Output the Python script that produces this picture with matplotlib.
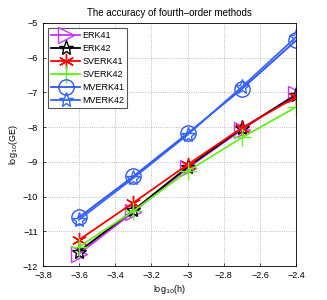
import numpy as np
import matplotlib
matplotlib.use('Agg')
import matplotlib.pyplot as plt

# log10 of step sizes h = 1/4000 ... 1/250
log_h = [-3.602, -3.301, -3.0, -2.699, -2.398]

erk41 = [-11.65, -10.45, -9.18, -8.07, -7.04]
erk42 = [-11.58, -10.40, -9.15, -8.04, -7.07]
sverk41 = [-11.25, -10.18, -9.08, -8.02, -7.13]
sverk42 = [-11.45, -10.42, -9.27, -8.30, -7.42]
mverk41 = [-10.60, -9.42, -8.18, -6.90, -5.50]
mverk42 = [-10.67, -9.47, -8.22, -6.84, -5.40]

labels = ['ERK41', 'ERK42', 'SVERK41', 'SVERK42', 'MVERK41', 'MVERK42']
colors = ['#cc33ff', 'k', 'r', '#66ee22', '#3355ee', '#3366ff']
markers = ['>', '*', (6, 2, 0), '+', 'o', '*']
sizes = [11, 11, 11, 13, 11, 11]

plt.rcParams['font.family'] = ['Liberation Sans', 'DejaVu Sans']
fig = plt.figure(figsize=(3.27, 3.0), dpi=100)
ax = fig.add_axes([0.1315, 0.113, 0.774, 0.811])

series = [erk41, erk42, sverk41, sverk42, mverk41, mverk42]
for vals, lab, c, m, ms in zip(series, labels, colors, markers, sizes):
    ax.plot(log_h, vals, color=c, marker=m, markersize=ms, markerfacecolor='none',
            markeredgewidth=1.0, linewidth=1.3, label=lab)

ax.set_xlim(-3.8, -2.4)
ax.set_ylim(-12, -5)
ax.set_xticks(np.arange(-3.8, -2.39, 0.2))
ax.set_xticklabels(['\u22123.8', '\u22123.6', '\u22123.4', '\u22123.2', '\u22123', '\u22122.8', '\u22122.6', '\u22122.4'])
ax.set_yticks(range(-12, -4))
ax.tick_params(labelsize=6.5, direction='in', length=2, width=0.5)
ax.grid(True, linestyle=':', color='#aaaaaa', linewidth=0.6)
for s in ax.spines.values():
    s.set_linewidth(0.6)
ax.set_xlabel(r'log$_{10}$(h)', fontsize=6.5, labelpad=2)
ax.set_ylabel(r'log$_{10}$(GE)', fontsize=6.5, labelpad=2)
ax.set_title('The accuracy of fourth\u2013order methods', fontsize=7, pad=5)

leg = ax.legend(loc='upper left', fontsize=6.5, handlelength=3.2, handletextpad=0.3,
                labelspacing=0.45, borderpad=0.3, fancybox=False, framealpha=1,
                edgecolor='#555555', borderaxespad=0.6)
leg.get_frame().set_linewidth(0.8)

fig.savefig('out.png', dpi=100)
